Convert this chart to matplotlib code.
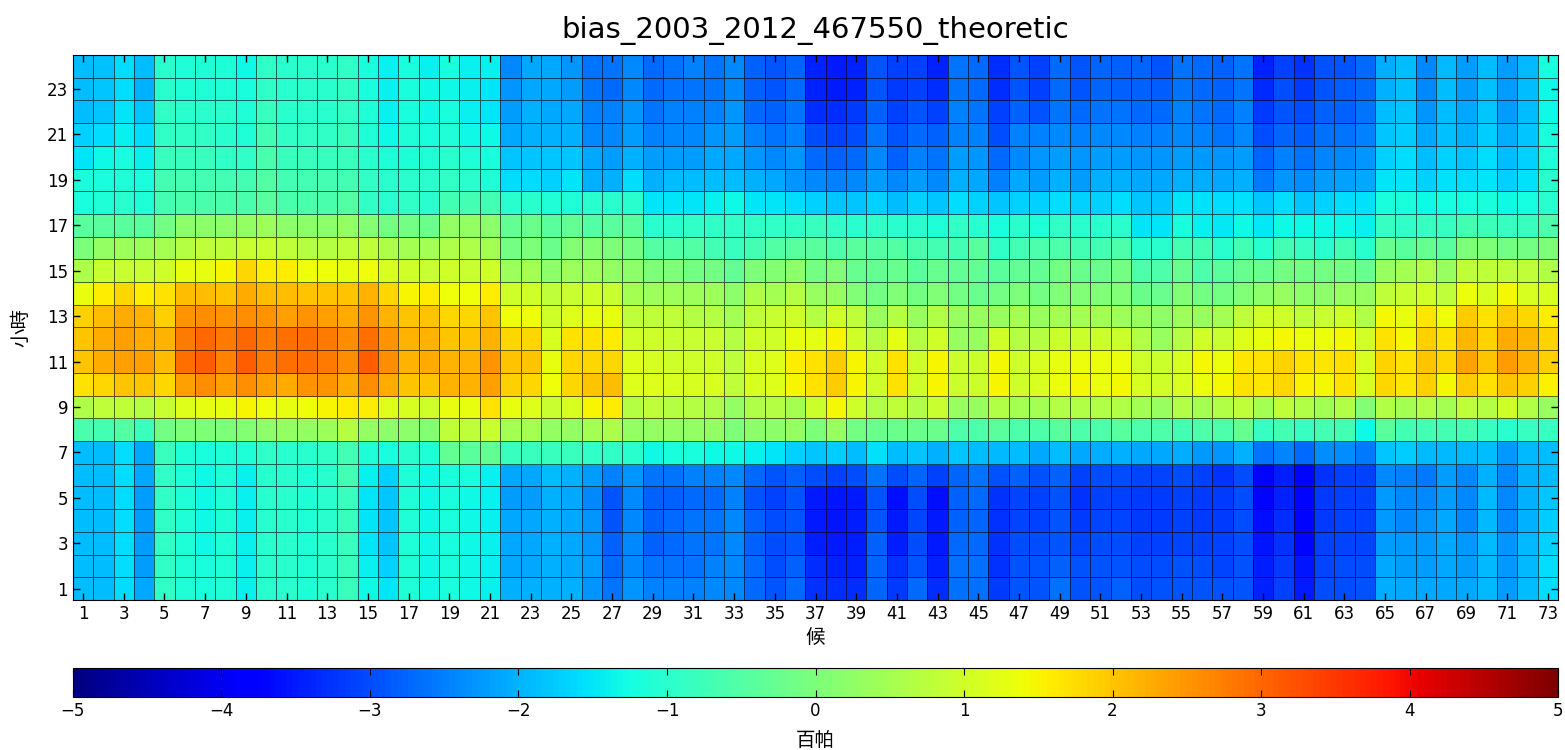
import numpy as np
import matplotlib
matplotlib.use("Agg")
import matplotlib.pyplot as plt

# pentad (候) index and hour of day
pentads = list(range(1, 74))
hours = list(range(1, 25))

# hourly bias (hPa) for each pentad, hour 1 .. hour 24
h01 = [-1.9,-1.9,-1.6,-2.1,-0.9,-1.1,-1.2,-1.1,-1.4,-1.0,-1.0,-1.1,-1.0,-0.8,-1.3,-1.5,-1.1,-1.3,
       -1.2,-1.3,-1.4,-2.0,-2.0,-2.0,-2.0,-2.3,-2.6,-2.3,-2.5,-2.5,-2.5,-2.4,-2.4,-2.7,-2.9,-2.7,
       -3.25,-3.3,-3.3,-2.75,-3.2,-2.7,-3.3,-2.65,-2.65,-3.2,-2.9,-2.9,-2.65,-2.95,-2.9,-2.8,-3.0,-2.95,-2.9,
       -2.9,-2.95,-2.9,-3.4,-3.1,-3.5,-3.0,-3.0,-2.95,-2.05,-2.1,-2.1,-2.1,-2.1,-1.95,-2.2,-1.9,-1.6]
h02 = [-1.9,-1.9,-1.6,-2.2,-0.9,-1.1,-1.2,-1.1,-1.4,-1.0,-1.0,-1.1,-1.0,-0.8,-1.4,-1.7,-1.1,-1.3,
       -1.2,-1.3,-1.4,-2.1,-2.1,-2.0,-2.1,-2.2,-2.7,-2.4,-2.6,-2.6,-2.6,-2.5,-2.4,-2.7,-3.0,-2.8,
       -3.3,-3.4,-3.4,-2.75,-3.25,-2.9,-3.4,-2.65,-2.65,-3.25,-2.95,-2.9,-2.8,-2.95,-2.9,-2.9,-3.0,-3.0,-2.95,
       -3.0,-3.05,-2.95,-3.45,-3.2,-3.55,-3.05,-3.0,-3.0,-2.1,-2.2,-2.2,-2.1,-2.2,-1.95,-2.25,-1.95,-1.6]
h03 = [-1.9,-1.9,-1.6,-2.2,-0.9,-1.1,-1.3,-1.1,-1.4,-1.0,-1.0,-1.1,-1.0,-0.8,-1.5,-1.8,-1.1,-1.3,
       -1.2,-1.3,-1.4,-2.1,-2.1,-2.0,-2.1,-2.3,-2.8,-2.4,-2.8,-2.7,-2.6,-2.6,-2.4,-2.8,-3.0,-2.9,
       -3.45,-3.5,-3.45,-2.8,-3.45,-3.0,-3.5,-2.7,-2.7,-3.25,-3.0,-3.0,-2.9,-3.05,-3.0,-3.0,-3.1,-3.1,-3.05,
       -3.1,-3.1,-3.0,-3.55,-3.25,-3.7,-3.1,-3.05,-3.05,-2.2,-2.25,-2.25,-2.1,-2.25,-1.95,-2.3,-1.95,-1.7]
h04 = [-1.9,-1.9,-1.6,-2.2,-0.9,-1.1,-1.3,-1.1,-1.4,-1.0,-1.0,-1.1,-1.0,-0.8,-1.5,-1.8,-1.1,-1.3,
       -1.2,-1.3,-1.4,-2.1,-2.1,-2.0,-2.1,-2.3,-2.9,-2.4,-2.8,-2.7,-2.6,-2.6,-2.4,-2.8,-3.0,-2.9,
       -3.5,-3.55,-3.45,-2.9,-3.5,-3.05,-3.5,-2.8,-2.75,-3.25,-3.05,-3.1,-2.9,-3.2,-3.05,-3.05,-3.2,-3.2,-3.1,
       -3.2,-3.2,-3.0,-3.6,-3.3,-3.7,-3.2,-3.1,-3.1,-2.25,-2.4,-2.3,-2.1,-2.4,-1.95,-2.4,-2.0,-1.75]
h05 = [-1.9,-1.9,-1.6,-2.2,-0.9,-1.1,-1.3,-1.1,-1.4,-1.0,-1.0,-1.1,-1.0,-0.8,-1.5,-1.8,-1.1,-1.3,
       -1.2,-1.3,-1.4,-2.2,-2.2,-2.0,-2.1,-2.4,-2.9,-2.4,-2.8,-2.8,-2.7,-2.7,-2.5,-2.9,-3.1,-2.9,
       -3.5,-3.55,-3.5,-2.9,-3.6,-3.0,-3.6,-2.8,-2.7,-3.25,-3.05,-3.1,-2.95,-3.25,-3.1,-3.1,-3.2,-3.2,-3.1,
       -3.2,-3.2,-3.0,-3.7,-3.4,-3.7,-3.2,-3.1,-3.1,-2.25,-2.4,-2.4,-2.2,-2.4,-1.95,-2.4,-2.0,-1.8]
h06 = [-1.9,-1.9,-1.6,-2.1,-0.9,-1.1,-1.3,-1.1,-1.4,-1.0,-1.0,-1.1,-1.0,-0.7,-1.4,-1.7,-1.1,-1.3,
       -1.2,-1.2,-1.4,-2.1,-2.1,-1.9,-2.0,-2.2,-2.5,-2.3,-2.6,-2.6,-2.5,-2.5,-2.4,-2.7,-2.9,-2.8,
       -3.0,-3.1,-3.0,-2.6,-3.0,-2.75,-3.1,-2.75,-2.6,-2.95,-2.8,-2.95,-2.8,-3.1,-3.0,-3.0,-3.05,-3.05,-3.0,
       -3.1,-3.25,-3.0,-3.7,-3.45,-3.7,-3.25,-3.1,-3.1,-2.4,-2.5,-2.55,-2.2,-2.4,-2.0,-2.4,-2.0,-1.95]
h07 = [-1.9,-1.9,-1.6,-2.1,-0.8,-1.1,-1.2,-1.1,-1.1,-0.9,-1.0,-1.0,-0.9,-0.7,-1.1,-1.2,-1.0,-1.1,
       -0.3,-0.4,-0.3,-0.8,-0.8,-0.8,-0.8,-0.9,-0.9,-1.0,-1.3,-1.2,-1.2,-1.3,-1.3,-1.4,-1.5,-1.7,
       -1.8,-1.75,-1.9,-1.55,-1.9,-1.8,-2.0,-1.8,-1.9,-1.95,-1.9,-2.1,-1.9,-2.1,-2.05,-2.0,-2.1,-2.1,-2.05,
       -2.25,-2.3,-2.0,-2.6,-2.45,-2.7,-2.35,-2.35,-2.55,-1.8,-1.75,-1.95,-1.95,-1.95,-1.9,-2.25,-1.95,-1.9]
h08 = [-0.6,-0.7,-0.5,-0.8,-0.1,0.0,0.0,0.0,0.1,0.2,0.3,0.3,0.4,0.7,0.3,0.2,0.2,0.1,
       0.8,0.8,0.9,0.5,0.5,0.3,0.3,0.5,0.6,0.3,0.3,0.3,0.3,0.3,0.0,0.2,0.2,0.3,
       0.0,0.35,-0.1,-0.2,-0.2,-0.2,-0.2,-0.55,-0.55,-0.4,-0.55,-0.55,-0.4,-0.55,-0.55,-0.4,-0.55,-0.55,-0.7,
       -0.55,-0.55,-0.25,-0.85,-0.7,-0.85,-0.7,-0.7,-1.3,-0.4,-0.7,-0.7,-0.7,-0.7,-0.85,-1.0,-0.85,-0.85]
h09 = [0.6,0.8,0.8,0.7,0.9,1.2,1.3,1.3,1.5,1.4,1.3,1.4,1.5,1.6,1.6,1.2,1.1,1.0,
       1.3,1.3,1.7,1.3,1.2,0.9,1.1,1.5,1.6,0.7,0.8,0.7,0.7,0.6,0.3,0.6,0.7,0.5,
       0.95,1.45,1.0,0.65,0.8,0.65,0.9,0.35,0.35,0.65,0.5,0.5,0.65,0.65,0.65,0.65,0.5,0.35,0.65,
       0.5,0.65,0.8,0.5,0.8,0.65,0.5,0.65,0.05,0.65,0.5,0.65,0.5,0.8,0.7,1.0,0.65,0.35]
h10 = [1.7,1.8,2.0,2.0,1.8,2.4,2.6,2.4,2.6,2.4,2.3,2.5,2.5,2.3,2.6,2.3,2.0,2.0,
       2.2,2.2,2.4,1.9,1.8,1.4,1.8,2.0,2.1,1.2,1.2,1.1,1.1,1.1,0.8,1.1,1.2,1.5,
       1.7,1.95,1.5,1.0,1.7,1.0,1.5,0.95,0.95,1.5,1.0,1.1,1.35,1.45,1.35,1.45,1.1,1.0,1.1,
       1.35,1.45,1.7,1.65,1.8,1.55,1.45,1.7,1.1,1.8,1.65,1.9,1.45,1.95,1.7,2.0,1.9,1.55]
h11 = [2.0,2.3,2.4,2.4,2.1,2.9,3.1,2.7,3.1,2.8,2.9,2.9,2.8,2.6,3.1,2.6,2.2,2.3,
       2.2,2.2,2.5,2.0,2.0,1.3,1.8,1.8,1.8,1.2,1.1,1.0,1.0,1.0,0.8,1.1,1.2,1.6,
       1.7,1.95,1.5,1.0,1.7,1.0,1.5,0.95,0.95,1.45,1.0,1.1,1.3,1.35,1.35,1.35,1.0,0.95,1.1,
       1.45,1.35,1.65,1.7,1.85,1.7,1.65,1.75,1.1,1.85,1.7,2.0,1.8,2.35,2.0,2.45,2.2,1.9]
h12 = [2.0,2.3,2.4,2.3,2.2,2.8,3.0,2.8,3.0,2.8,2.9,2.9,2.8,2.6,2.9,2.5,2.2,2.2,
       2.0,2.0,2.2,1.8,1.8,1.1,1.7,1.7,1.6,1.0,1.0,0.9,0.9,0.9,0.7,1.0,1.0,1.3,
       1.25,1.5,1.0,0.7,1.25,0.7,1.0,0.35,0.35,1.0,0.7,0.7,0.95,0.95,0.95,0.95,0.65,0.35,0.7,
       1.0,0.9,1.2,1.3,1.45,1.35,1.35,1.45,1.05,1.7,1.45,1.9,1.7,2.15,1.85,2.3,2.15,1.85]
h13 = [1.9,2.1,2.3,2.2,1.9,2.5,2.6,2.5,2.6,2.5,2.4,2.5,2.4,2.3,2.5,2.2,2.0,2.0,
       1.8,1.8,2.0,1.4,1.4,1.0,1.2,1.3,1.3,0.8,0.8,0.8,0.7,0.7,0.5,0.8,0.9,1.0,
       0.7,1.0,0.8,0.35,0.7,0.35,0.65,0.35,0.35,0.35,0.5,0.35,0.5,0.5,0.5,0.4,0.35,0.2,0.4,
       0.35,0.5,0.8,1.0,1.0,0.8,0.9,1.0,0.65,1.45,1.3,1.65,1.4,1.95,1.7,1.95,1.8,1.6]
h14 = [1.3,1.6,1.8,1.6,1.7,2.1,2.1,2.0,2.3,2.1,2.1,2.0,2.0,2.0,2.2,1.8,1.5,1.6,
       1.4,1.4,1.6,1.0,1.0,0.8,0.9,1.0,0.9,0.5,0.4,0.4,0.4,0.4,0.2,0.6,0.5,0.7,
       0.35,0.35,0.05,-0.1,0.05,-0.1,0.05,-0.1,-0.2,-0.1,0.0,-0.1,0.05,0.05,0.05,0.05,-0.2,-0.2,0.05,
       -0.1,-0.1,0.05,0.2,0.35,0.2,0.2,0.35,0.35,0.8,0.9,1.0,0.8,1.35,1.1,1.45,1.1,1.1]
h15 = [0.6,0.9,0.9,0.9,1.0,1.3,1.3,1.5,1.8,1.6,1.6,1.4,1.4,1.3,1.4,1.1,1.0,0.9,
       1.0,0.9,1.0,0.4,0.5,0.2,0.4,0.4,0.3,0.2,0.0,0.0,-0.1,-0.1,-0.3,0.0,0.1,0.2,
       -0.1,0.05,-0.25,-0.3,-0.25,-0.4,-0.25,-0.3,-0.3,-0.4,-0.3,-0.3,-0.1,-0.2,-0.2,-0.1,-0.55,-0.55,-0.25,
       -0.55,-0.4,-0.25,-0.25,-0.1,-0.1,-0.1,-0.1,-0.25,0.35,0.5,0.65,0.35,0.8,0.8,0.8,0.8,0.65]
h16 = [0.0,0.3,0.4,0.4,0.5,0.7,0.8,0.8,0.9,0.9,0.8,0.7,0.7,0.8,0.8,0.6,0.5,0.5,
       0.6,0.6,0.5,-0.1,0.0,-0.2,0.1,0.1,0.0,-0.1,-0.5,-0.5,-0.5,-0.7,-0.8,-0.7,-0.5,-0.4,
       -0.4,-0.55,-0.4,-0.5,-0.5,-0.6,-0.7,-0.7,-0.4,-0.9,-0.7,-0.55,-0.55,-0.7,-0.7,-0.55,-1.0,-1.0,-0.7,
       -0.7,-1.0,-0.7,-1.0,-0.7,-0.85,-1.0,-0.7,-1.0,-0.25,-0.4,-0.25,-0.4,0.0,0.0,-0.1,-0.1,0.0]
h17 = [-0.4,-0.4,-0.4,-0.4,-0.1,0.2,0.2,0.2,0.3,0.4,0.2,0.2,0.2,0.3,0.1,-0.1,-0.1,-0.2,
       0.3,0.3,0.2,-0.3,-0.2,-0.4,-0.3,-0.5,-0.4,-0.4,-1.0,-1.0,-0.9,-0.9,-0.9,-0.9,-0.9,-0.9,
       -0.8,-0.9,-1.0,-0.9,-1.0,-1.0,-1.1,-0.9,-1.0,-1.2,-1.0,-1.1,-0.9,-1.0,-1.0,-1.0,-1.5,-1.5,-1.2,
       -1.4,-1.45,-1.3,-1.45,-1.3,-1.3,-1.3,-1.3,-1.4,-0.85,-0.9,-0.85,-0.85,-0.7,-0.75,-0.85,-0.8,-0.55]
h18 = [-1.2,-1.1,-1.0,-1.1,-0.7,-0.6,-0.6,-0.6,-0.6,-0.4,-0.6,-0.6,-0.6,-0.5,-0.9,-1.0,-0.9,-1.0,
       -0.7,-0.7,-0.7,-1.0,-1.0,-1.1,-1.1,-1.0,-1.0,-1.0,-1.5,-1.5,-1.5,-1.4,-1.3,-1.5,-1.5,-1.6,
       -1.7,-1.8,-1.8,-1.7,-1.9,-1.7,-1.8,-1.6,-1.7,-1.8,-1.7,-1.7,-1.6,-1.7,-1.7,-1.6,-1.8,-1.8,-1.5,
       -1.55,-1.6,-1.55,-1.8,-1.6,-1.8,-1.7,-1.6,-1.55,-1.2,-1.2,-1.3,-1.25,-1.25,-1.2,-1.3,-1.25,-1.0]
h19 = [-1.2,-1.2,-1.1,-1.2,-0.7,-0.7,-0.7,-0.7,-0.7,-0.5,-0.7,-0.7,-0.7,-0.7,-0.9,-1.0,-1.0,-1.0,
       -0.9,-1.0,-1.1,-1.6,-1.6,-1.7,-1.5,-2.0,-2.0,-1.6,-2.0,-1.9,-1.9,-1.9,-1.9,-2.0,-2.1,-2.3,
       -2.4,-2.5,-2.4,-2.2,-2.4,-2.2,-2.4,-2.0,-2.1,-2.5,-2.1,-2.2,-2.0,-2.2,-2.0,-2.0,-2.1,-2.1,-2.0,
       -2.05,-2.1,-2.0,-2.55,-2.3,-2.35,-2.2,-2.15,-2.1,-1.5,-1.5,-1.7,-1.55,-1.6,-1.5,-1.7,-1.55,-1.0]
h20 = [-1.5,-1.3,-1.2,-1.4,-0.8,-0.8,-0.8,-0.9,-0.9,-0.6,-0.8,-0.8,-0.8,-0.8,-1.0,-1.1,-1.1,-1.1,
       -1.0,-1.1,-1.2,-1.8,-1.8,-1.8,-1.8,-2.1,-2.2,-2.0,-2.2,-2.2,-2.2,-2.1,-2.1,-2.3,-2.4,-2.3,
       -2.7,-2.8,-2.7,-2.4,-2.8,-2.5,-2.6,-2.2,-2.3,-2.7,-2.4,-2.3,-2.2,-2.3,-2.2,-2.2,-2.3,-2.3,-2.2,
       -2.25,-2.3,-2.2,-2.75,-2.5,-2.6,-2.45,-2.4,-2.3,-1.7,-1.6,-1.9,-1.7,-1.8,-1.6,-1.9,-1.7,-1.1]
h21 = [-1.7,-1.6,-1.4,-1.6,-0.9,-0.9,-0.9,-1.0,-1.1,-0.7,-0.9,-0.9,-0.9,-0.8,-1.1,-1.3,-1.1,-1.2,
       -1.1,-1.3,-1.3,-2.1,-2.0,-2.0,-2.0,-2.4,-2.4,-2.2,-2.5,-2.4,-2.4,-2.3,-2.2,-2.5,-2.6,-2.5,
       -3.0,-3.1,-3.0,-2.6,-2.9,-2.7,-2.8,-2.5,-2.5,-3.0,-2.5,-2.5,-2.4,-2.5,-2.4,-2.4,-2.5,-2.5,-2.4,
       -2.5,-2.6,-2.4,-3.0,-2.75,-2.85,-2.65,-2.6,-2.5,-1.8,-1.75,-2.1,-1.85,-2.0,-1.75,-2.05,-1.8,-1.2]
h22 = [-1.9,-1.8,-1.5,-1.8,-0.9,-1.0,-1.0,-1.0,-1.1,-0.8,-1.0,-1.0,-1.0,-0.9,-1.1,-1.4,-1.2,-1.3,
       -1.2,-1.4,-1.5,-2.2,-2.0,-2.1,-2.1,-2.5,-2.5,-2.3,-2.6,-2.5,-2.5,-2.5,-2.3,-2.7,-2.8,-2.6,
       -3.3,-3.3,-3.2,-2.8,-3.1,-2.9,-3.1,-2.5,-2.6,-3.1,-2.8,-2.9,-2.6,-2.7,-2.6,-2.6,-2.7,-2.7,-2.5,
       -2.6,-2.7,-2.5,-3.2,-2.9,-3.0,-2.8,-2.8,-2.6,-1.9,-1.8,-2.3,-1.9,-2.1,-1.8,-2.2,-1.9,-1.3]
h23 = [-1.9,-1.8,-1.6,-2.0,-1.0,-1.1,-1.1,-1.1,-1.2,-0.9,-1.0,-1.0,-1.0,-0.9,-1.2,-1.4,-1.2,-1.3,
       -1.3,-1.4,-1.5,-2.3,-2.1,-2.1,-2.2,-2.6,-2.7,-2.4,-2.7,-2.6,-2.6,-2.6,-2.4,-2.8,-2.9,-2.7,
       -3.4,-3.5,-3.4,-2.9,-3.2,-3.1,-3.3,-2.6,-2.7,-3.3,-2.9,-3.1,-2.7,-2.9,-2.75,-2.8,-2.8,-2.85,-2.6,
       -2.7,-2.8,-2.6,-3.35,-3.0,-3.2,-2.9,-2.85,-2.7,-2.0,-1.85,-2.4,-1.9,-2.2,-1.85,-2.2,-1.9,-1.3]
h24 = [-1.9,-1.85,-1.6,-1.9,-1.0,-1.1,-1.1,-1.1,-1.3,-0.9,-1.0,-1.0,-1.0,-0.9,-1.2,-1.4,-1.2,-1.4,
       -1.2,-1.4,-1.4,-2.4,-2.1,-2.1,-2.3,-2.6,-2.6,-2.4,-2.7,-2.6,-2.5,-2.6,-2.4,-2.8,-2.9,-2.75,
       -3.4,-3.5,-3.4,-2.9,-3.1,-3.1,-3.4,-2.6,-2.7,-3.3,-2.9,-3.1,-2.7,-2.9,-2.75,-2.8,-2.75,-2.9,-2.6,
       -2.7,-2.8,-2.6,-3.4,-3.1,-3.25,-2.95,-2.9,-2.7,-2.05,-1.9,-2.4,-1.95,-2.2,-1.9,-2.2,-1.95,-1.2]

bias = np.array([h01, h02, h03, h04, h05, h06, h07, h08, h09, h10, h11, h12,
                 h13, h14, h15, h16, h17, h18, h19, h20, h21, h22, h23, h24])

plt.rcParams['font.family'] = ['DejaVu Sans', 'Noto Sans CJK TC']
plt.rcParams['xtick.direction'] = 'in'
plt.rcParams['ytick.direction'] = 'in'

fig = plt.figure(figsize=(15.65, 7.5), dpi=100)
ax = fig.add_axes([0.0466, 0.2, 0.949, 0.7267])

x = np.array(pentads)
y = np.array(hours)
mesh = ax.pcolormesh(x, y, bias, cmap='jet', vmin=-5, vmax=5, shading='nearest',
                     edgecolors=(0, 0, 0, 0.6), linewidth=0.7)

ax.set_xlim(0.5, 73.5)
ax.set_ylim(0.5, 24.5)
ax.set_xticks(pentads[::2])
ax.set_yticks(hours[::2])
ax.tick_params(top=True, right=True, labelsize=12, length=5, width=1)
ax.set_xlabel('候', fontsize=14, labelpad=4)
ax.set_ylabel('小時', fontsize=14, labelpad=12)
ax.set_title('bias_2003_2012_467550_theoretic', fontsize=21, pad=12)

cax = fig.add_axes([0.0466, 0.0707, 0.949, 0.0387])
cb = fig.colorbar(mesh, cax=cax, orientation='horizontal', ticks=range(-5, 6))
cb.ax.tick_params(labelsize=12, direction='in', length=5, top=True)
cb.set_label('百帕', fontsize=14, labelpad=8)
# keep the colourbar gradient free of cell edges
cb.solids.set_edgecolor('face')

fig.savefig('out.png', dpi=100)
